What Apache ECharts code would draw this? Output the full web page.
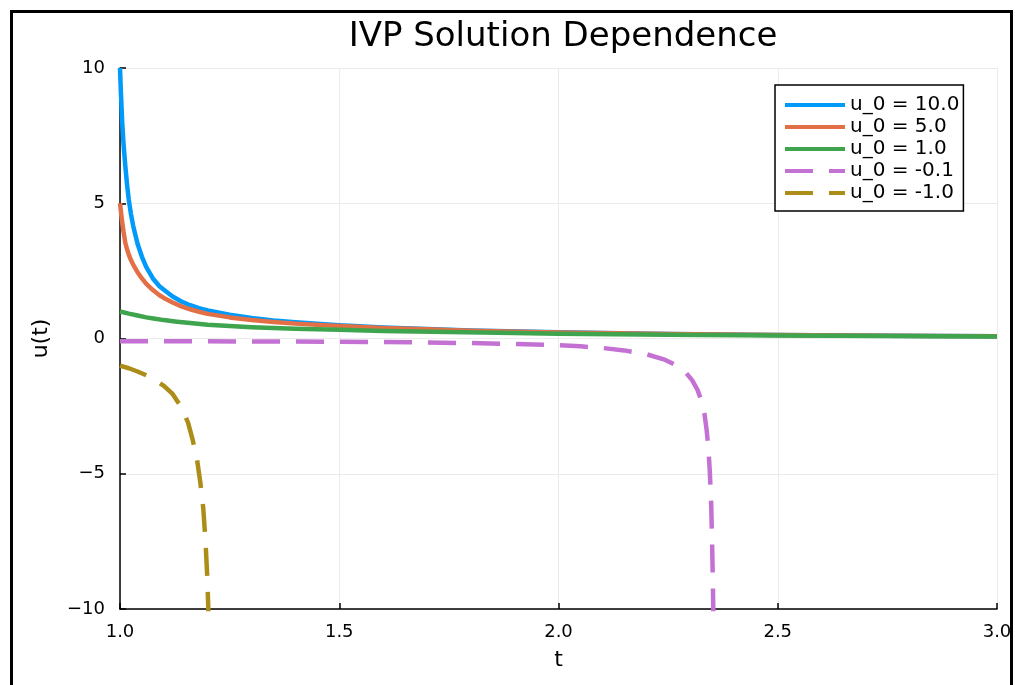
<!DOCTYPE html>
<html>
<head>
    <meta charset="utf-8">
    <script src="https://cdn.jsdelivr.net/npm/echarts@6/dist/echarts.min.js"></script>
    <title>IVP Solution Dependence</title>
    <style>
        body { margin: 0; background: #fff; }
        #main { width: 1015px; height: 685px; }
    </style>
</head>

<body>
    <div id="main"></div>

    <script type="text/javascript">
        // values
        var names = ['u_0 = 10.0', 'u_0 = 5.0', 'u_0 = 1.0', 'u_0 = -0.1', 'u_0 = -1.0']
        var colors = ['#009AFA', '#E36F47', '#3EA44E', '#C371D2', '#AC8D18']
        var dashed = [false, false, false, true, true]

        var t10 = [1, 1.002, 1.005, 1.008, 1.012, 1.016, 1.02, 1.025, 1.03, 1.04, 1.05, 1.06, 1.075, 1.09, 1.1, 1.12, 1.14, 1.16, 1.18, 1.2, 1.25, 1.3, 1.35, 1.4, 1.5, 1.6, 1.7, 1.8, 2.0, 2.25, 2.5, 2.75, 3.0]
        var u10 = [10, 9.1, 8.0, 7.2, 6.4, 5.7, 5.13, 4.6, 4.17, 3.5, 3.02, 2.64, 2.22, 1.93, 1.8, 1.55, 1.37, 1.23, 1.12, 1.04, 0.88, 0.76, 0.67, 0.6, 0.49, 0.41, 0.35, 0.3, 0.23, 0.17, 0.13, 0.1, 0.08]

        var t5 = [1, 1.002, 1.005, 1.008, 1.012, 1.016, 1.02, 1.025, 1.03, 1.04, 1.05, 1.06, 1.075, 1.09, 1.1, 1.12, 1.14, 1.16, 1.18, 1.2, 1.25, 1.3, 1.35, 1.4, 1.5, 1.6, 1.7, 1.8, 2.0, 2.25, 2.5, 2.75, 3.0]
        var u5 = [5, 4.7, 4.3, 3.95, 3.55, 3.3, 3.1, 2.9, 2.73, 2.45, 2.22, 2.02, 1.79, 1.6, 1.5, 1.33, 1.19, 1.08, 0.99, 0.91, 0.78, 0.68, 0.61, 0.55, 0.46, 0.39, 0.34, 0.29, 0.22, 0.17, 0.13, 0.1, 0.08]

        var t1 = [1, 1.02, 1.04, 1.06, 1.08, 1.1, 1.13, 1.16, 1.2, 1.25, 1.3, 1.4, 1.5, 1.6, 1.75, 1.9, 2.0, 2.25, 2.5, 2.75, 3.0]
        var u1 = [1, 0.92, 0.85, 0.78, 0.73, 0.68, 0.62, 0.57, 0.51, 0.46, 0.42, 0.36, 0.32, 0.28, 0.24, 0.2, 0.18, 0.14, 0.11, 0.09, 0.07]

        var tm01 = [1, 1.2, 1.4, 1.6, 1.8, 1.9, 2.0, 2.05, 2.1, 2.15, 2.2, 2.24, 2.27, 2.29, 2.305, 2.317, 2.326, 2.333, 2.338, 2.342, 2.345, 2.348, 2.35, 2.352, 2.354]
        var um01 = [-0.1, -0.104, -0.112, -0.13, -0.17, -0.2, -0.25, -0.29, -0.35, -0.44, -0.58, -0.77, -1.0, -1.25, -1.55, -1.9, -2.3, -2.8, -3.4, -4.1, -4.9, -6.0, -7.3, -9.0, -11]

        var tm1 = [1, 1.02, 1.04, 1.06, 1.08, 1.1, 1.12, 1.14, 1.155, 1.165, 1.175, 1.183, 1.19, 1.195, 1.199, 1.202]
        var um1 = [-1, -1.1, -1.22, -1.36, -1.53, -1.75, -2.05, -2.55, -3.1, -3.7, -4.4, -5.3, -6.3, -7.5, -8.8, -10.3]

        var ts = [t10, t5, t1, tm01, tm1]
        var us = [u10, u5, u1, um01, um1]

        var xTicks = [1.0, 1.5, 2.0, 2.5, 3.0]
        var yTicks = [-10, -5, 0, 5, 10]

        var myChart = echarts.init(document.getElementById('main'))
        var font = 'DejaVu Sans'

        var series = []
        for (var i = 0; i < names.length; i++) {
            var pts = ts[i].map(function(t, j) { return [t, us[i][j]] })
            series.push({
                name: names[i],
                type: 'line',
                data: pts,
                symbol: 'none',
                smooth: false,
                clip: true,
                color: colors[i],
                lineStyle: {
                    width: 4.5,
                    color: colors[i],
                    type: dashed[i] ? [28, 16] : 'solid',
                    join: 'round'
                }
            })
        }

        myChart.setOption({
            animation: false,
            backgroundColor: '#fff',
            title: {
                text: 'IVP Solution Dependence',
                left: 558,
                textAlign: 'center',
                top: 15,
                textStyle: { fontFamily: font, fontWeight: 'normal', fontSize: 34, color: '#000' }
            },
            legend: {
                data: names,
                orient: 'vertical',
                left: 775,
                top: 85,
                backgroundColor: '#fff',
                borderColor: '#000',
                borderWidth: 1.5,
                borderRadius: 0,
                padding: [10, 4, 8, 8],
                itemWidth: 60,
                itemHeight: 12,
                itemGap: 2,
                itemStyle: { opacity: 0 },
                lineStyle: { width: 4 },
                textStyle: { fontFamily: font, fontSize: 20, color: '#000' }
            },
            graphic: [{
                type: 'rect',
                shape: { x: 11.5, y: 11.5, width: 1000, height: 720 },
                style: { fill: 'none', stroke: '#000', lineWidth: 3 },
                silent: true
            }],
            grid: { left: 120, right: 18, top: 68, bottom: 76 },
            xAxis: {
                type: 'value',
                min: 1,
                max: 3,
                interval: 0.5,
                name: 't',
                nameLocation: 'middle',
                nameGap: 40,
                nameTextStyle: { fontFamily: font, fontSize: 22, color: '#000' },
                axisLine: { onZero: false, lineStyle: { color: '#000', width: 1.5 } },
                axisTick: { inside: true, length: 6, lineStyle: { color: '#000', width: 1.5 } },
                axisLabel: {
                    fontFamily: font, fontSize: 18, color: '#000', margin: 14,
                    formatter: function(v) { return xTicks.indexOf(v) >= 0 ? v.toFixed(1) : '' }
                },
                splitLine: { show: true, lineStyle: { color: '#ebebeb', width: 1 } }
            },
            yAxis: {
                type: 'value',
                min: -10,
                max: 10,
                interval: 5,
                name: 'u(t)',
                nameLocation: 'middle',
                nameGap: 68,
                nameRotate: 90,
                nameTextStyle: { fontFamily: font, fontSize: 22, color: '#000' },
                axisLine: { show: true, onZero: false, lineStyle: { color: '#000', width: 1.5 } },
                axisTick: { show: true, inside: true, length: 6, lineStyle: { color: '#000', width: 1.5 } },
                axisLabel: {
                    fontFamily: font, fontSize: 18, color: '#000', margin: 15,
                    formatter: function(v) { return yTicks.indexOf(v) >= 0 ? String(v).replace('-', '\u2212') : '' }
                },
                splitLine: { show: true, lineStyle: { color: '#ebebeb', width: 1 } }
            },
            series: series
        })
    </script>
</body>

</html>
